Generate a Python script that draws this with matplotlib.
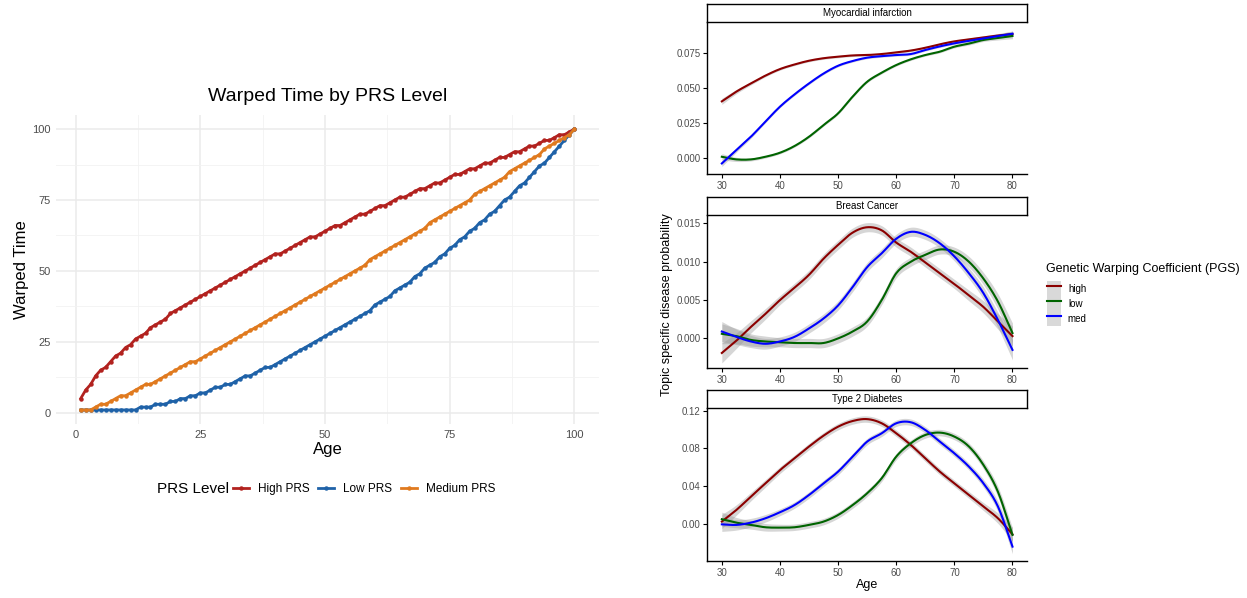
import numpy as np
import matplotlib
matplotlib.use("Agg")
import matplotlib.pyplot as plt
from matplotlib.lines import Line2D
from matplotlib.patches import Patch
from matplotlib.ticker import FormatStrFormatter

plt.rcParams['font.family'] = ['Liberation Sans', 'DejaVu Sans']

# ---- left panel data: warped time per age ----
age = list(range(1, 101))
high_prs = [5, 8, 10, 13, 15, 16, 18, 20, 21, 23, 24, 26, 27, 28, 30, 31, 32, 33, 35, 36,
            37, 38, 39, 40, 41, 42, 43, 44, 45, 46, 47, 48, 49, 50, 51, 52, 53, 54, 55, 56,
            56, 57, 58, 59, 60, 61, 62, 62, 63, 64, 65, 66, 66, 67, 68, 69, 70, 70, 71, 72,
            73, 73, 74, 75, 76, 76, 77, 78, 79, 79, 80, 81, 81, 82, 83, 84, 84, 85, 86, 86,
            87, 88, 88, 89, 90, 90, 91, 92, 92, 93, 94, 94, 95, 96, 96, 97, 98, 98, 99, 100]
low_prs = [1, 1, 1, 1, 1, 1, 1, 1, 1, 1, 1, 1, 2, 2, 2, 3, 3, 3, 4, 4,
           5, 5, 6, 6, 7, 7, 8, 9, 9, 10, 10, 11, 12, 13, 13, 14, 15, 16, 16, 17,
           18, 19, 20, 21, 22, 23, 24, 25, 26, 27, 28, 29, 30, 31, 32, 33, 34, 35, 36, 38,
           39, 40, 41, 43, 44, 45, 46, 48, 49, 51, 52, 53, 55, 56, 58, 59, 61, 62, 64, 65,
           67, 68, 70, 71, 73, 75, 76, 78, 80, 81, 83, 85, 87, 88, 90, 92, 94, 96, 98, 100]
medium_prs = [1, 1, 1, 2, 3, 3, 4, 5, 6, 6, 7, 8, 9, 10, 10, 11, 12, 13, 14, 15,
              16, 17, 18, 18, 19, 20, 21, 22, 23, 24, 25, 26, 27, 28, 29, 30, 31, 32, 33, 34,
              35, 36, 37, 38, 39, 40, 41, 42, 43, 44, 45, 46, 47, 48, 49, 50, 51, 52, 54, 55,
              56, 57, 58, 59, 60, 61, 62, 63, 64, 65, 67, 68, 69, 70, 71, 72, 73, 74, 75, 77,
              78, 79, 80, 81, 82, 83, 85, 86, 87, 88, 89, 90, 91, 93, 94, 95, 96, 97, 98, 100]

# ---- right panels data: smoothed probability per age ----
age_s = [30, 32.5, 35, 37.5, 40, 42.5, 45, 47.5, 50, 52.5, 55, 57.5, 60, 62.5, 65, 67.5,
         70, 72.5, 75, 77.5, 80]

mi_high = [0.0405, 0.0475, 0.0534, 0.059, 0.0637, 0.067, 0.0697, 0.0715, 0.0726, 0.0735,
           0.0738, 0.0745, 0.0757, 0.077, 0.079, 0.0815, 0.0836, 0.085, 0.0865, 0.0878, 0.0889]
mi_low = [0.0007, -0.0012, -0.0012, 0.0007, 0.0036, 0.0084, 0.0151, 0.0235, 0.0319, 0.0439,
          0.0546, 0.0611, 0.0666, 0.0707, 0.0738, 0.0762, 0.0798, 0.082, 0.0846, 0.086, 0.0875]
mi_med = [-0.0041, 0.0055, 0.0151, 0.026, 0.0367, 0.0455, 0.0534, 0.0605, 0.0661, 0.0695,
          0.0719, 0.073, 0.0738, 0.0745, 0.0774, 0.080, 0.0822, 0.084, 0.0858, 0.0875, 0.0891]
mi_se = [0.0022, 0.0015, 0.0011, 0.0009, 0.0008, 0.0008, 0.0008, 0.0008, 0.0008, 0.0008,
         0.0008, 0.0008, 0.0008, 0.0008, 0.0008, 0.0008, 0.0009, 0.0010, 0.0011, 0.0014, 0.0020]

bc_high = [-0.0019, -0.0003, 0.0015, 0.0032, 0.0050, 0.0066, 0.0083, 0.0104, 0.0122, 0.0138,
           0.0145, 0.0141, 0.0125, 0.0113, 0.0099, 0.0085, 0.0071, 0.0056, 0.0041, 0.0022, 0.0003]
bc_low = [0.0006, 0.0003, -0.0002, -0.0004, -0.0005, -0.0006, -0.0006, -0.0006, 0.0, 0.0009,
          0.0022, 0.0050, 0.0085, 0.0100, 0.0109, 0.0116, 0.0113, 0.0100, 0.0078, 0.0048, 0.0007]
bc_med = [0.0009, 0.0002, -0.0004, -0.0007, -0.0004, 0.0002, 0.0013, 0.0026, 0.0043, 0.0067,
          0.0093, 0.0111, 0.0130, 0.0139, 0.0135, 0.0124, 0.0107, 0.0085, 0.0059, 0.0024, -0.0015]
bc_se = [0.0013, 0.0010, 0.0008, 0.0007, 0.0006, 0.0006, 0.0006, 0.0006, 0.0006, 0.0006,
         0.0006, 0.0006, 0.0006, 0.0006, 0.0006, 0.0006, 0.0006, 0.0007, 0.0008, 0.0010, 0.0013]

t2d_high = [0.0025, 0.0148, 0.029, 0.043, 0.057, 0.0695, 0.082, 0.0935, 0.103, 0.109,
            0.111, 0.1066, 0.096, 0.0837, 0.0695, 0.0554, 0.043, 0.0307, 0.0184, 0.006, -0.011]
t2d_low = [0.005, 0.0014, -0.001, -0.0035, -0.0039, -0.0035, -0.001, 0.0025, 0.0095, 0.020,
           0.0325, 0.0484, 0.0713, 0.0854, 0.0942, 0.0967, 0.0925, 0.082, 0.0625, 0.034, -0.0116]
t2d_med = [-0.0004, -0.001, 0.0014, 0.006, 0.0124, 0.020, 0.0307, 0.043, 0.0554, 0.0713,
           0.0872, 0.096, 0.1066, 0.1077, 0.0995, 0.0872, 0.0748, 0.0607, 0.043, 0.0184, -0.024]
t2d_se = [0.0075, 0.0055, 0.0045, 0.004, 0.0036, 0.0034, 0.0034, 0.0034, 0.0034, 0.0034,
          0.0034, 0.0034, 0.0034, 0.0034, 0.0034, 0.0034, 0.0034, 0.0036, 0.0042, 0.0055, 0.0075]

prs_colors = {'High PRS': '#B2221F', 'Low PRS': '#1F62A8', 'Medium PRS': '#E07A1F'}
pgs_colors = {'high': '#8B0000', 'low': '#006400', 'med': '#0000FF'}


def smooth_line(x, y, n=12):
    # cubic hermite drawing of the curve through the read points (like geom_smooth rendering)
    x = np.asarray(x, float)
    y = np.asarray(y, float)
    m = np.gradient(y, x)
    xs, ys = [], []
    for i in range(len(x) - 1):
        h = x[i + 1] - x[i]
        t = np.linspace(0, 1, n, endpoint=False)
        h00 = 2 * t**3 - 3 * t**2 + 1
        h10 = t**3 - 2 * t**2 + t
        h01 = -2 * t**3 + 3 * t**2
        h11 = t**3 - t**2
        xs.append(x[i] + t * h)
        ys.append(h00 * y[i] + h10 * h * m[i] + h01 * y[i + 1] + h11 * h * m[i + 1])
    xs.append([x[-1]])
    ys.append([y[-1]])
    return np.concatenate(xs), np.concatenate(ys)


fig = plt.figure(figsize=(12.47, 5.98), dpi=100)

# ---- left: warped time ----
ax = fig.add_axes([0.0449, 0.291, 0.4355, 0.5167])
for name, vals in [('High PRS', high_prs), ('Low PRS', low_prs), ('Medium PRS', medium_prs)]:
    ax.plot(age, vals, color=prs_colors[name], lw=2, marker='o', ms=2.2, label=name)
ax.set_xlim(-3.95, 104.95)
ax.set_ylim(-3.95, 104.95)
ax.set_xticks([0, 25, 50, 75, 100])
ax.set_yticks([0, 25, 50, 75, 100])
ax.set_xticks([12.5, 37.5, 62.5, 87.5], minor=True)
ax.set_yticks([12.5, 37.5, 62.5, 87.5], minor=True)
ax.grid(which='major', color='#EBEBEB', lw=1.1)
ax.grid(which='minor', color='#F2F2F2', lw=0.6)
ax.set_axisbelow(True)
for s in ax.spines.values():
    s.set_visible(False)
ax.tick_params(which='both', length=0, labelsize=8, labelcolor='#4D4D4D', pad=4)
ax.set_title("Warped Time by PRS Level", fontsize=14, pad=10)
ax.set_xlabel("Age", fontsize=12, labelpad=2)
ax.set_ylabel("Warped Time", fontsize=12, labelpad=2)

fig.text(0.126, 0.182, "PRS Level", fontsize=11, va='center', ha='left')
handles = [Line2D([], [], color=prs_colors[n], lw=2, marker='o', ms=2.2) for n in prs_colors]
fig.legend(handles, list(prs_colors), loc='center left', bbox_to_anchor=(0.187, 0.182),
           ncol=3, frameon=False, fontsize=8.5, handlelength=1.35, handletextpad=0.75,
           columnspacing=0.75, borderaxespad=0, borderpad=0)

# ---- right: facets ----
panels = [
    ("Myocardial infarction", 0.709, 0.2537, mi_high, mi_low, mi_med, mi_se,
     (-0.0117, 0.0973), [0, 0.025, 0.05, 0.075], '%.3f'),
    ("Breast Cancer", 0.3841, 0.2564, bc_high, bc_low, bc_med, bc_se,
     (-0.0039, 0.0161), [0, 0.005, 0.01, 0.015], '%.3f'),
    ("Type 2 Diabetes", 0.0619, 0.2554, t2d_high, t2d_low, t2d_med, t2d_se,
     (-0.0392, 0.1225), [0, 0.04, 0.08, 0.12], '%.2f'),
]
px_h = 18.3 / 598
for title, bottom, height, hi, lo, me, se, ylim, yt, fmt in panels:
    a = fig.add_axes([0.5672, bottom, 0.2564, height])
    for key, vals in [('high', hi), ('low', lo), ('med', me)]:
        xs, lo_band = smooth_line(age_s, np.array(vals) - np.array(se))
        _, hi_band = smooth_line(age_s, np.array(vals) + np.array(se))
        a.fill_between(xs, lo_band, hi_band, color='#999999', alpha=0.4, lw=0)
    for key, vals in [('high', hi), ('low', lo), ('med', me)]:
        xs, ys = smooth_line(age_s, vals)
        a.plot(xs, ys, color=pgs_colors[key], lw=1.5)
    a.set_xlim(27.5, 82.5)
    a.set_ylim(*ylim)
    a.set_xticks([30, 40, 50, 60, 70, 80])
    a.set_yticks(yt)
    a.yaxis.set_major_formatter(FormatStrFormatter(fmt))
    a.spines['top'].set_visible(False)
    a.spines['right'].set_visible(False)
    a.spines['left'].set_linewidth(1.0)
    a.spines['bottom'].set_linewidth(1.0)
    a.tick_params(length=3, width=0.8, labelsize=7, labelcolor='#4D4D4D', pad=2)
    # strip
    s = fig.add_axes([0.5672, bottom + height, 0.2564, px_h])
    s.set_xticks([])
    s.set_yticks([])
    for sp in s.spines.values():
        sp.set_linewidth(1.0)
    s.text(0.5, 0.5, title, fontsize=7, ha='center', va='center', transform=s.transAxes)
    if title == "Type 2 Diabetes":
        a.set_xlabel("Age", fontsize=9, labelpad=1)

fig.text(0.535, 0.491, "Topic specific disease probability", fontsize=9, rotation=90,
         ha='center', va='center')

fig.text(0.8388, 0.5502, "Genetic Warping Coefficient (PGS)", fontsize=9,
         ha='left', va='center')
pgs_handles = [(Patch(facecolor='#D9D9D9', edgecolor='none'), Line2D([], [], color=c, lw=1.5))
               for c in pgs_colors.values()]
fig.legend(pgs_handles, list(pgs_colors), loc='upper left',
           bbox_to_anchor=(0.8396, 0.530), frameon=False, fontsize=7,
           handlelength=1.45, handleheight=2.0, labelspacing=0.0, handletextpad=0.7,
           borderaxespad=0, borderpad=0)

fig.savefig("out.png", dpi=100)
